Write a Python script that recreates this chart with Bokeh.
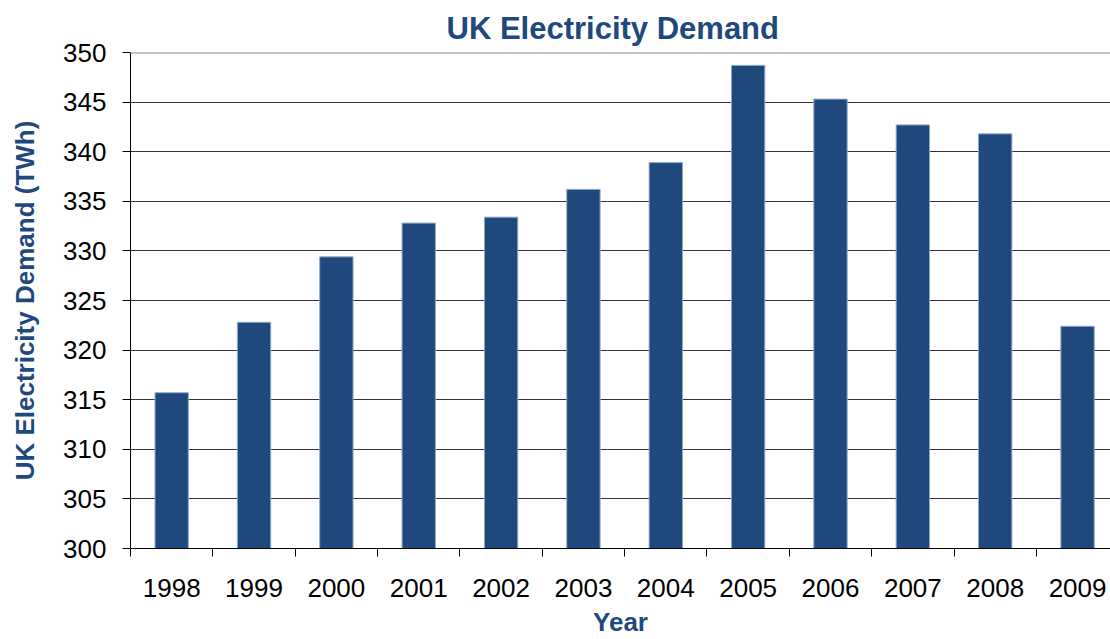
from bokeh.plotting import figure
from bokeh.models import Range1d, FixedTicker, Span, ColumnDataSource
from bokeh.embed import file_html
from bokeh.resources import INLINE

years = ["1998", "1999", "2000", "2001", "2002", "2003", "2004", "2005", "2006", "2007", "2008", "2009"]
demand = [315.7, 322.8, 329.4, 332.8, 333.4, 336.2, 338.9, 348.7, 345.3, 342.7, 341.8, 322.4]
y_ticks = [300, 305, 310, 315, 320, 325, 330, 335, 340, 345, 350]

BLUE = "#1F497D"
FONT = "Liberation Sans"

xpos = [i + 0.5 for i in range(len(years))]
src = ColumnDataSource(dict(x=xpos, top=demand, year=years))

p = figure(width=1110, height=639, output_backend="svg", toolbar_location=None,
           x_range=Range1d(0, 11.9), y_range=Range1d(300, 350),
           min_border_left=130, min_border_right=0, min_border_top=52, min_border_bottom=90)

p.vbar(x="x", top="top", bottom=300, width=0.405, source=src,
       fill_color=BLUE, line_color="#8fa8c8", line_width=1)

p.title.text = "UK Electricity Demand"
p.title.text_font = FONT
p.title.text_font_size = "31px"
p.title.text_font_style = "bold"
p.title.text_color = BLUE
p.title.align = "left"
p.title.offset = 316
p.title.standoff = 14

p.outline_line_color = None
p.background_fill_color = "white"
p.border_fill_color = "white"

# x axis
xa = p.xaxis[0]
xa.ticker = FixedTicker(ticks=xpos, minor_ticks=list(range(0, 13)))
xa.major_label_overrides = {x: y for x, y in zip(xpos, years)}
xa.major_tick_out = 0
xa.major_tick_in = 0
xa.minor_tick_out = 8
xa.minor_tick_in = 0
xa.minor_tick_line_color = "black"
xa.axis_line_color = "black"
xa.major_label_standoff = 22
xa.major_label_text_font = FONT
xa.major_label_text_font_size = "26px"
xa.major_label_text_color = "black"
xa.axis_label = "Year"
xa.axis_label_text_font = FONT
xa.axis_label_text_font_size = "26px"
xa.axis_label_text_font_style = "bold"
xa.axis_label_text_color = BLUE
xa.axis_label_standoff = 7

# y axis
ya = p.yaxis[0]
ya.ticker = FixedTicker(ticks=y_ticks)
ya.major_tick_out = 8
ya.major_tick_in = 0
ya.minor_tick_line_color = None
ya.axis_line_color = "black"
ya.major_tick_line_color = "black"
ya.major_label_standoff = 16
ya.major_label_text_font = FONT
ya.major_label_text_font_size = "26px"
ya.major_label_text_color = "black"
ya.axis_label = "UK Electricity Demand (TWh)"
ya.axis_label_text_font = FONT
ya.axis_label_text_font_size = "26px"
ya.axis_label_text_font_style = "bold"
ya.axis_label_text_color = BLUE
ya.axis_label_standoff = 20

p.xgrid.grid_line_color = None
p.ygrid.ticker = FixedTicker(ticks=y_ticks[1:-1])
p.ygrid.grid_line_color = "#333333"
p.ygrid.grid_line_width = 1
p.ygrid.level = "underlay"

p.add_layout(Span(location=350, dimension="width", line_color="#8c8c8c", line_width=2))

open("out.html", "w").write(file_html(p, INLINE))
